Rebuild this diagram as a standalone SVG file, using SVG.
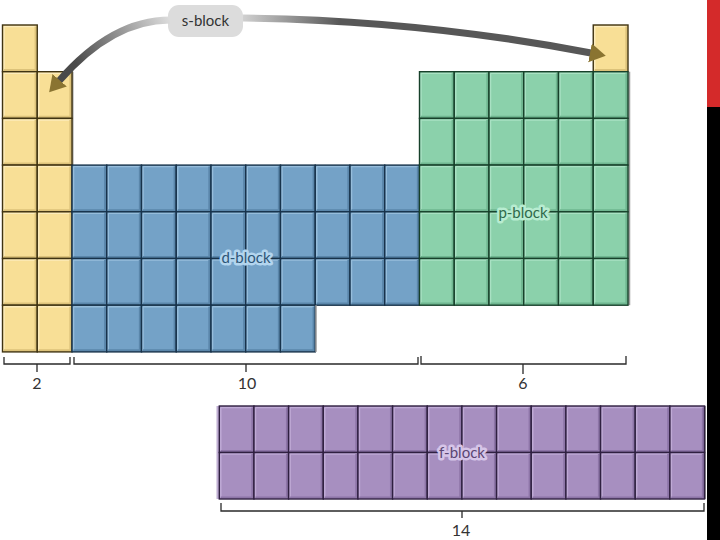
<svg xmlns="http://www.w3.org/2000/svg" xmlns:xlink="http://www.w3.org/1999/xlink" width="720" height="540" viewBox="0 0 720 540">
<style>
.lbl{font-family:Lato,"Open Sans","Liberation Sans",sans-serif;font-size:15px;text-anchor:middle}
.num{font-family:Lato,"Open Sans","Liberation Sans",sans-serif;font-size:16px;fill:#333;text-anchor:middle}
.glow{paint-order:stroke;stroke-width:5;stroke-linejoin:round}
.br{fill:none;stroke:#2a2a2a;stroke-width:1.3}
.shadow{fill:#9a9a9a}
</style>
<defs>
<g id="cy">
<rect width="34.75" height="46.7" fill="#f8df96"/>
<path d="M1.5,1.5H33.2M1.5,1.5V45" stroke="#fcecbc" stroke-width="1.5" fill="none"/>
<path d="M1.5,45.2H33.2V1.5" stroke="#dcc27a" stroke-width="2.2" fill="none"/>
<rect width="34.75" height="46.7" fill="none" stroke="#3f3312" stroke-width="1.4"/>
</g>
<g id="cb">
<rect width="34.75" height="46.7" fill="#74a2c7"/>
<path d="M1.5,1.5H33.2M1.5,1.5V45" stroke="#96bddb" stroke-width="1.5" fill="none"/>
<path d="M1.5,45.2H33.2V1.5" stroke="#5a86aa" stroke-width="2.2" fill="none"/>
<rect width="34.75" height="46.7" fill="none" stroke="#17324a" stroke-width="1.4"/>
</g>
<g id="cg">
<rect width="34.75" height="46.7" fill="#8bd1ab"/>
<path d="M1.5,1.5H33.2M1.5,1.5V45" stroke="#a9e1c3" stroke-width="1.5" fill="none"/>
<path d="M1.5,45.2H33.2V1.5" stroke="#6fb690" stroke-width="2.2" fill="none"/>
<rect width="34.75" height="46.7" fill="none" stroke="#17402a" stroke-width="1.4"/>
</g>
<g id="cp">
<rect width="34.66" height="46.5" fill="#a78fc0"/>
<path d="M1.5,1.5H33.1M1.5,1.5V45" stroke="#bfaad5" stroke-width="1.5" fill="none"/>
<path d="M1.5,45H33.1V1.5" stroke="#8d75a7" stroke-width="2.2" fill="none"/>
<rect width="34.66" height="46.5" fill="none" stroke="#2f2040" stroke-width="1.4"/>
</g>
<linearGradient id="gl" gradientUnits="userSpaceOnUse" x1="170" y1="20" x2="80" y2="70">
<stop offset="0" stop-color="#dcdcdc"/><stop offset="1" stop-color="#4a4a4a"/>
</linearGradient>
<linearGradient id="gr" gradientUnits="userSpaceOnUse" x1="243" y1="18" x2="340" y2="24">
<stop offset="0" stop-color="#d0d0d0"/><stop offset="1" stop-color="#575757"/>
</linearGradient>
<marker id="ah" markerUnits="userSpaceOnUse" markerWidth="18" markerHeight="20" refX="1" refY="9.5" orient="auto" viewBox="0 0 18 19">
<path d="M0,0 L16,9.5 L0,19 z" fill="#8a7431"/>
</marker>
</defs>

<rect x="707" y="0" width="13" height="107" fill="#d42a2a"/>
<rect x="707" y="107" width="13" height="433" fill="#000"/>

<g id="s-block">
<rect class="shadow" x="72" y="71.7" width="1.5" height="280.2"/>
<use xlink:href="#cy" x="2.5" y="25"/>
<use xlink:href="#cy" x="2.5" y="71.7"/>
<use xlink:href="#cy" x="2.5" y="118.4"/>
<use xlink:href="#cy" x="2.5" y="165.1"/>
<use xlink:href="#cy" x="2.5" y="211.8"/>
<use xlink:href="#cy" x="2.5" y="258.5"/>
<use xlink:href="#cy" x="2.5" y="305.2"/>
<use xlink:href="#cy" x="37.25" y="71.7"/>
<use xlink:href="#cy" x="37.25" y="118.4"/>
<use xlink:href="#cy" x="37.25" y="165.1"/>
<use xlink:href="#cy" x="37.25" y="211.8"/>
<use xlink:href="#cy" x="37.25" y="258.5"/>
<use xlink:href="#cy" x="37.25" y="305.2"/>
<use xlink:href="#cy" x="593.25" y="25"/>
</g>

<g id="d-block">
<use xlink:href="#cb" x="72" y="165.1"/><use xlink:href="#cb" x="106.75" y="165.1"/><use xlink:href="#cb" x="141.5" y="165.1"/><use xlink:href="#cb" x="176.25" y="165.1"/><use xlink:href="#cb" x="211" y="165.1"/><use xlink:href="#cb" x="245.75" y="165.1"/><use xlink:href="#cb" x="280.5" y="165.1"/><use xlink:href="#cb" x="315.25" y="165.1"/><use xlink:href="#cb" x="350" y="165.1"/><use xlink:href="#cb" x="384.75" y="165.1"/>
<use xlink:href="#cb" x="72" y="211.8"/><use xlink:href="#cb" x="106.75" y="211.8"/><use xlink:href="#cb" x="141.5" y="211.8"/><use xlink:href="#cb" x="176.25" y="211.8"/><use xlink:href="#cb" x="211" y="211.8"/><use xlink:href="#cb" x="245.75" y="211.8"/><use xlink:href="#cb" x="280.5" y="211.8"/><use xlink:href="#cb" x="315.25" y="211.8"/><use xlink:href="#cb" x="350" y="211.8"/><use xlink:href="#cb" x="384.75" y="211.8"/>
<use xlink:href="#cb" x="72" y="258.5"/><use xlink:href="#cb" x="106.75" y="258.5"/><use xlink:href="#cb" x="141.5" y="258.5"/><use xlink:href="#cb" x="176.25" y="258.5"/><use xlink:href="#cb" x="211" y="258.5"/><use xlink:href="#cb" x="245.75" y="258.5"/><use xlink:href="#cb" x="280.5" y="258.5"/><use xlink:href="#cb" x="315.25" y="258.5"/><use xlink:href="#cb" x="350" y="258.5"/><use xlink:href="#cb" x="384.75" y="258.5"/>
<use xlink:href="#cb" x="72" y="305.2"/><use xlink:href="#cb" x="106.75" y="305.2"/><use xlink:href="#cb" x="141.5" y="305.2"/><use xlink:href="#cb" x="176.25" y="305.2"/><use xlink:href="#cb" x="211" y="305.2"/><use xlink:href="#cb" x="245.75" y="305.2"/><use xlink:href="#cb" x="280.5" y="305.2"/>
<rect class="shadow" x="315.25" y="305.2" width="1.5" height="46.7"/>
<text class="lbl glow" x="246" y="263" fill="#2d5677" stroke="#b3d5ee">d-block</text>
</g>

<g id="p-block">
<rect class="shadow" x="628.25" y="71.7" width="2" height="233.5"/>
<use xlink:href="#cg" x="419.5" y="71.7"/><use xlink:href="#cg" x="454.25" y="71.7"/><use xlink:href="#cg" x="489" y="71.7"/><use xlink:href="#cg" x="523.75" y="71.7"/><use xlink:href="#cg" x="558.5" y="71.7"/><use xlink:href="#cg" x="593.25" y="71.7"/>
<use xlink:href="#cg" x="419.5" y="118.4"/><use xlink:href="#cg" x="454.25" y="118.4"/><use xlink:href="#cg" x="489" y="118.4"/><use xlink:href="#cg" x="523.75" y="118.4"/><use xlink:href="#cg" x="558.5" y="118.4"/><use xlink:href="#cg" x="593.25" y="118.4"/>
<use xlink:href="#cg" x="419.5" y="165.1"/><use xlink:href="#cg" x="454.25" y="165.1"/><use xlink:href="#cg" x="489" y="165.1"/><use xlink:href="#cg" x="523.75" y="165.1"/><use xlink:href="#cg" x="558.5" y="165.1"/><use xlink:href="#cg" x="593.25" y="165.1"/>
<use xlink:href="#cg" x="419.5" y="211.8"/><use xlink:href="#cg" x="454.25" y="211.8"/><use xlink:href="#cg" x="489" y="211.8"/><use xlink:href="#cg" x="523.75" y="211.8"/><use xlink:href="#cg" x="558.5" y="211.8"/><use xlink:href="#cg" x="593.25" y="211.8"/>
<use xlink:href="#cg" x="419.5" y="258.5"/><use xlink:href="#cg" x="454.25" y="258.5"/><use xlink:href="#cg" x="489" y="258.5"/><use xlink:href="#cg" x="523.75" y="258.5"/><use xlink:href="#cg" x="558.5" y="258.5"/><use xlink:href="#cg" x="593.25" y="258.5"/>
<text class="lbl glow" x="523" y="218" fill="#2f6a4b" stroke="#b8ecd1">p-block</text>
</g>

<g id="f-block">
<rect x="216.5" y="406" width="3" height="93" fill="#c0aed3"/>
<rect class="shadow" x="704" y="406" width="2" height="93"/>
<use xlink:href="#cp" x="219.3" y="406"/><use xlink:href="#cp" x="253.96" y="406"/><use xlink:href="#cp" x="288.62" y="406"/><use xlink:href="#cp" x="323.28" y="406"/><use xlink:href="#cp" x="357.94" y="406"/><use xlink:href="#cp" x="392.6" y="406"/><use xlink:href="#cp" x="427.26" y="406"/><use xlink:href="#cp" x="461.92" y="406"/><use xlink:href="#cp" x="496.58" y="406"/><use xlink:href="#cp" x="531.24" y="406"/><use xlink:href="#cp" x="565.9" y="406"/><use xlink:href="#cp" x="600.56" y="406"/><use xlink:href="#cp" x="635.22" y="406"/><use xlink:href="#cp" x="669.88" y="406"/>
<use xlink:href="#cp" x="219.3" y="452.5"/><use xlink:href="#cp" x="253.96" y="452.5"/><use xlink:href="#cp" x="288.62" y="452.5"/><use xlink:href="#cp" x="323.28" y="452.5"/><use xlink:href="#cp" x="357.94" y="452.5"/><use xlink:href="#cp" x="392.6" y="452.5"/><use xlink:href="#cp" x="427.26" y="452.5"/><use xlink:href="#cp" x="461.92" y="452.5"/><use xlink:href="#cp" x="496.58" y="452.5"/><use xlink:href="#cp" x="531.24" y="452.5"/><use xlink:href="#cp" x="565.9" y="452.5"/><use xlink:href="#cp" x="600.56" y="452.5"/><use xlink:href="#cp" x="635.22" y="452.5"/><use xlink:href="#cp" x="669.88" y="452.5"/>
<text class="lbl glow" x="462" y="458" fill="#5b4673" stroke="#d6c5e8">f-block</text>
</g>

<g id="s-label">
<rect x="168" y="5" width="75" height="32" rx="11" fill="#dcdcdc"/>
<text class="lbl" x="205.5" y="26" fill="#333">s-block</text>
</g>

<g id="connectors">
<path d="M170,20 Q112,20 59,81" fill="none" stroke="url(#gl)" stroke-width="7" marker-end="url(#ah)"/>
<path d="M243,18 Q420,20 591,53" fill="none" stroke="url(#gr)" stroke-width="7" marker-end="url(#ah)"/>
</g>

<g id="brackets">
<path class="br" d="M4,357V364H70V357M37,364V372"/>
<path class="br" d="M74,357V364H418V357M246,364V372"/>
<path class="br" d="M421,356V364H626V356M523,364V374"/>
<path class="br" d="M221,503V511H704V503M462,511V518"/>
<text class="num" x="37" y="389">2</text>
<text class="num" x="247" y="389">10</text>
<text class="num" x="523" y="389">6</text>
<text class="num" x="461" y="536">14</text>
</g>
</svg>
